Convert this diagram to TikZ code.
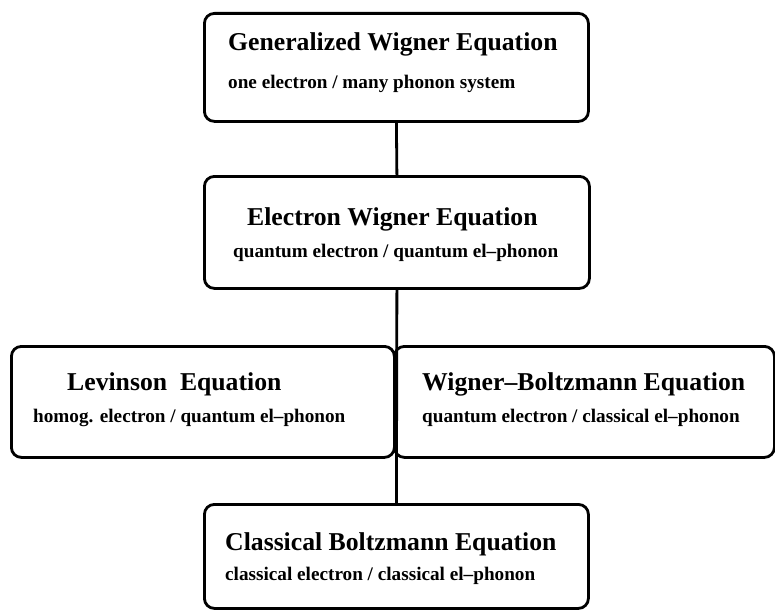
\documentclass[tikz,border=0pt]{standalone}
\usepackage{fontspec}
\setmainfont{Liberation Serif}
\begin{document}
\begin{tikzpicture}[x=1pt,y=-1pt,
  box/.style={draw,line width=2.8pt,rounded corners=10pt,inner sep=0pt,anchor=north west},
  ttl/.style={font=\bfseries\fontsize{25.7}{28}\selectfont,inner sep=0pt,anchor=base west},
  sub/.style={font=\bfseries\fontsize{19.2}{21}\selectfont,inner sep=0pt,anchor=base west},
  link/.style={line width=2.8pt}]
\useasboundingbox (0,0) rectangle (775,610);
\node[box,minimum width=384pt,minimum height=108pt] (b1) at (203,12) {};
\node[box,minimum width=385pt,minimum height=112pt] (b2) at (203,175) {};
\node[box,minimum width=383pt,minimum height=111pt] (b3) at (10,345) {};
\node[box,minimum width=380pt,minimum height=111pt] (b4) at (393,345) {};
\node[box,minimum width=384pt,minimum height=104pt] (b5) at (203,503) {};
\draw[link] (b1.south) -- (b2.north);
\draw[link] (b2.south) -- (b5.north);
\node[ttl] (t1) at (228,50) {Generalized Wigner Equation};
\node[sub] (s1) at (228,88) {one electron / many phonon system};
\node[ttl] (t2) at (247,225) {Electron Wigner Equation};
\node[sub] (s2) at (233,257) {quantum electron / quantum el--phonon};
\node[ttl] (t3) at (67,390) {Levinson\ \ Equation};
\node[sub] (s3) at (33,422) {homog. electron / quantum el--phonon};
\node[ttl] (t4) at (422,390) {Wigner--Boltzmann Equation};
\node[sub] (s4) at (422,422) {quantum electron / classical el--phonon};
\node[ttl] (t5) at (225,550) {Classical Boltzmann Equation};
\node[sub] (s5) at (225,580) {classical electron / classical el--phonon};
\end{tikzpicture}
\end{document}
